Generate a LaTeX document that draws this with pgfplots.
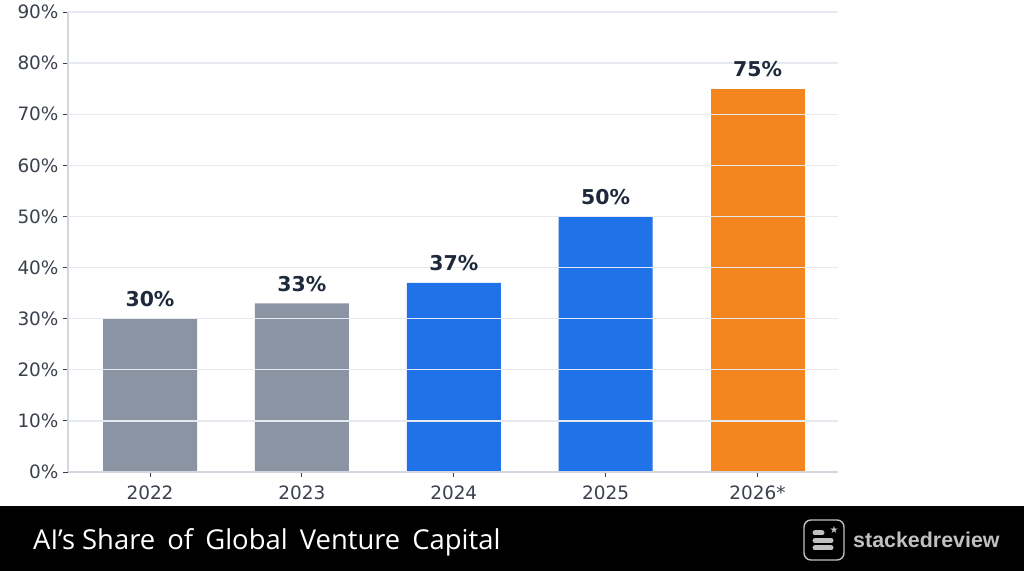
\documentclass[border=0pt]{standalone}
\usepackage{pgfplots}
\pgfplotsset{compat=1.18}
\usepackage{fontspec}
\setmainfont{DejaVu Sans}
\newfontfamily\titlefont{Open Sans}
\newfontfamily\brandfont{Liberation Sans}

\definecolor{slatebar}{HTML}{8A94A3}
\definecolor{bluebar}{HTML}{2072E8}
\definecolor{orangebar}{HTML}{F5851F}
\definecolor{gridc}{HTML}{E6EAF0}
\definecolor{spine}{HTML}{D3D8E0}
\definecolor{ticktext}{HTML}{3A404C}
\definecolor{valtext}{HTML}{1E293B}
\definecolor{brandgray}{HTML}{C0C0C0}

\begin{document}
\begin{tikzpicture}
\path[use as bounding box] (0,0) rectangle (1024bp,571bp);
\fill[white] (0,0) rectangle (1024bp,571bp);

\begin{axis}[
  at={(68bp,99bp)}, anchor=south west,
  scale only axis, width=770bp, height=460bp,
  xmin=-0.54, xmax=4.53, ymin=0, ymax=90,
  ybar, bar width=94bp,
  xtick={0,1,2,3,4},
  xticklabels={2022,2023,2024,2025,2026*},
  ytick={0,10,...,90},
  yticklabel={\pgfmathprintnumber{\tick}\%},
  /pgf/number format/assume math mode=true,
  ticklabel style={font=\fontsize{18.5}{22}\selectfont, text=ticktext},
  tick align=outside, major tick length=5bp,
  tick style={draw=ticktext, line width=0.8bp},
  axis x line*=bottom, axis y line*=left,
  axis line style={draw=spine, line width=1.2bp, -},
  ymajorgrids, grid style={draw=gridc, line width=1.4bp},
  axis on top,
  nodes near coords={\pgfmathprintnumber{\pgfplotspointmeta}\%},
  nodes near coords style={font=\bfseries\fontsize{20.5}{24}\selectfont, text=valtext, anchor=south, yshift=8.5bp},
  xticklabel style={yshift=-5.5bp},
  yticklabel style={xshift=-1bp},
  clip=false,
]
\addplot[fill=slatebar, draw=none, bar shift=0pt] coordinates {(0,30) (1,33)};
\addplot[fill=bluebar, draw=none, bar shift=0pt] coordinates {(2,37) (3,50)};
\addplot[fill=orangebar, draw=none, bar shift=0pt] coordinates {(4,75)};
\end{axis}

% bottom banner
\fill[black] (0,0) rectangle (1024bp,65bp);
\node[anchor=base west, text=white, inner sep=0pt, font=\titlefont\fontsize{27.5}{32}\selectfont]
  at (33bp,22bp) {AI’s Share\hspace{5bp} of\hspace{5bp} Global\hspace{5bp} Venture\hspace{5bp} Capital};

% brand mark
\draw[brandgray, line width=1.4bp, rounded corners=7bp] (804bp,11bp) rectangle (844bp,51bp);
\begin{scope}[brandgray, line cap=round]
  \draw[line width=5bp] (815bp,38bp) -- (822bp,38bp);
  \draw[line width=5bp] (815bp,30.5bp) -- (831bp,30.5bp);
  \draw[line width=5bp] (815bp,23bp) -- (831bp,23bp);
\end{scope}
\node[text=brandgray, inner sep=0pt, font=\fontsize{10}{10}\selectfont] at (834bp,41bp) {★};
\node[anchor=base west, text=brandgray, inner sep=0pt, font=\brandfont\bfseries\fontsize{21.5}{25}\selectfont]
  at (853bp,24bp) {stackedreview};
\end{tikzpicture}
\end{document}
